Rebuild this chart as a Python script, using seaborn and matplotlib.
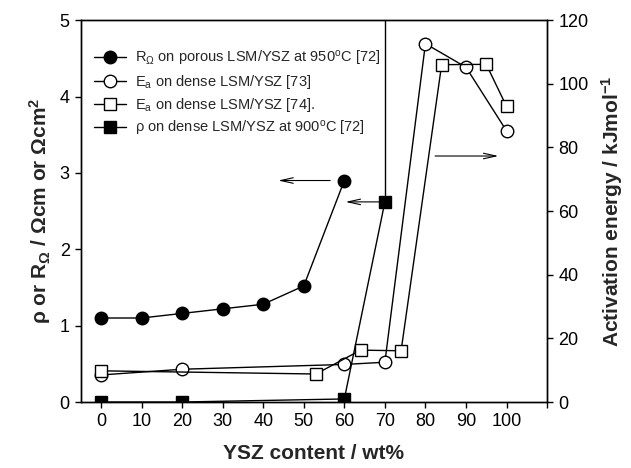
import matplotlib
matplotlib.use("Agg")
import matplotlib.pyplot as plt
import seaborn as sns
import pandas as pd

# Ohmic resistance of porous LSM/YSZ at 950 °C (left axis)
r_ohm_x = [0, 10, 20, 30, 40, 50, 60]
r_ohm_y = [1.10, 1.10, 1.16, 1.22, 1.28, 1.52, 2.90]

# Resistivity of dense LSM/YSZ at 900 °C (left axis)
rho_x = [0, 20, 60, 70]
rho_y = [0.0, 0.0, 0.04, 2.62]

# Activation energy, dense LSM/YSZ [73] (right axis)
ea73_x = [0, 20, 60, 70, 80, 90, 100]
ea73_y = [8.5, 10.3, 11.8, 12.5, 112.6, 105.2, 85.2]

# Activation energy, dense LSM/YSZ [74] (right axis)
ea74_x = [0, 53, 64, 74, 84, 95, 100]
ea74_y = [9.8, 8.8, 16.3, 16.1, 106.0, 106.1, 92.9]

x_ticks = [0, 10, 20, 30, 40, 50, 60, 70, 80, 90, 100, 110]
x_tick_labels = ["0", "10", "20", "30", "40", "50", "60", "70", "80", "90", "100", ""]
left_ticks = [0, 1, 2, 3, 4, 5]
right_ticks = [0, 20, 40, 60, 80, 100, 120]

sns.set_style("ticks")
plt.rcParams["font.family"] = ["Liberation Sans", "DejaVu Sans"]
plt.rcParams["mathtext.default"] = "regular"
plt.rcParams["axes.linewidth"] = 1.0

fig = plt.figure(figsize=(6.31, 4.68), dpi=100)
ax = fig.add_axes([0.128, 0.141, 0.739, 0.816])
ax2 = ax.twinx()

lw = 1.0
common = dict(color="black", linewidth=lw, sort=False, estimator=None,
              markeredgecolor="black", markeredgewidth=1.0)

sns.lineplot(data=pd.DataFrame({"x": r_ohm_x, "y": r_ohm_y}), x="x", y="y", ax=ax,
             marker="o", markersize=9, markerfacecolor="black",
             label=r"R$_\Omega$ on porous LSM/YSZ at 950$^o$C [72]", **common)
sns.lineplot(data=pd.DataFrame({"x": rho_x, "y": rho_y}), x="x", y="y", ax=ax,
             marker="s", markersize=8, markerfacecolor="black",
             label=r"ρ on dense LSM/YSZ at 900$^o$C [72]", **common)
sns.lineplot(data=pd.DataFrame({"x": ea73_x, "y": ea73_y}), x="x", y="y", ax=ax2,
             marker="o", markersize=9, markerfacecolor="white",
             label=r"E$_a$ on dense LSM/YSZ [73]", **common)
sns.lineplot(data=pd.DataFrame({"x": ea74_x, "y": ea74_y}), x="x", y="y", ax=ax2,
             marker="s", markersize=8, markerfacecolor="white",
             label=r"E$_a$ on dense LSM/YSZ [74].", **common)

ax.set_xlim(-5, 110)
ax.set_ylim(0, 5)
ax2.set_ylim(0, 120)

# resistivity rises off-scale beyond the last measured point
ax.vlines(rho_x[-1], rho_y[-1], ax.get_ylim()[1], color="black", linewidth=lw, zorder=1)

ax.set_xticks(x_ticks)
ax.set_xticklabels(x_tick_labels)
ax.set_yticks(left_ticks)
ax2.set_yticks(right_ticks)

for a in (ax, ax2):
    a.tick_params(direction="out", length=4, width=1, labelsize=13, colors="black", pad=4)
    for s in a.spines.values():
        s.set_visible(True)
        s.set_color("black")

ax.set_xlabel("YSZ content / wt%", fontsize=15, fontweight="bold", labelpad=10)
ax.set_ylabel(r"ρ or R$_\Omega$ / Ωcm or Ωcm$^2$", fontsize=15, fontweight="bold", labelpad=5)
ax2.set_ylabel(r"Activation energy / kJmol$^{-1}$", fontsize=15, fontweight="bold", labelpad=8)

# arrows pointing to the axis each series belongs to
arrow = dict(arrowstyle="->,head_length=0.9,head_width=0.2", color="black", linewidth=0.8)
ax.annotate("", xy=(43, r_ohm_y[-1]), xytext=(57.2, r_ohm_y[-1]), arrowprops=arrow)
ax.annotate("", xy=(59.6, rho_y[-1]), xytext=(69.2, rho_y[-1]), arrowprops=arrow)
ax2.annotate("", xy=(98.7, 77.3), xytext=(81.7, 77.3), arrowprops=arrow)

h1, l1 = ax.get_legend_handles_labels()
h2, l2 = ax2.get_legend_handles_labels()
ax.get_legend().remove()
handles = [h1[0], h2[0], h2[1], h1[1]]
labels = [l1[0], l2[0], l2[1], l1[1]]
ax2.legend(handles, labels, loc="upper left", bbox_to_anchor=(0.0, 0.96),
           frameon=False, fontsize=10.5, handlelength=2.2, handletextpad=0.6,
           labelspacing=0.35, borderaxespad=0.5)

fig.savefig("out.png", dpi=100)
